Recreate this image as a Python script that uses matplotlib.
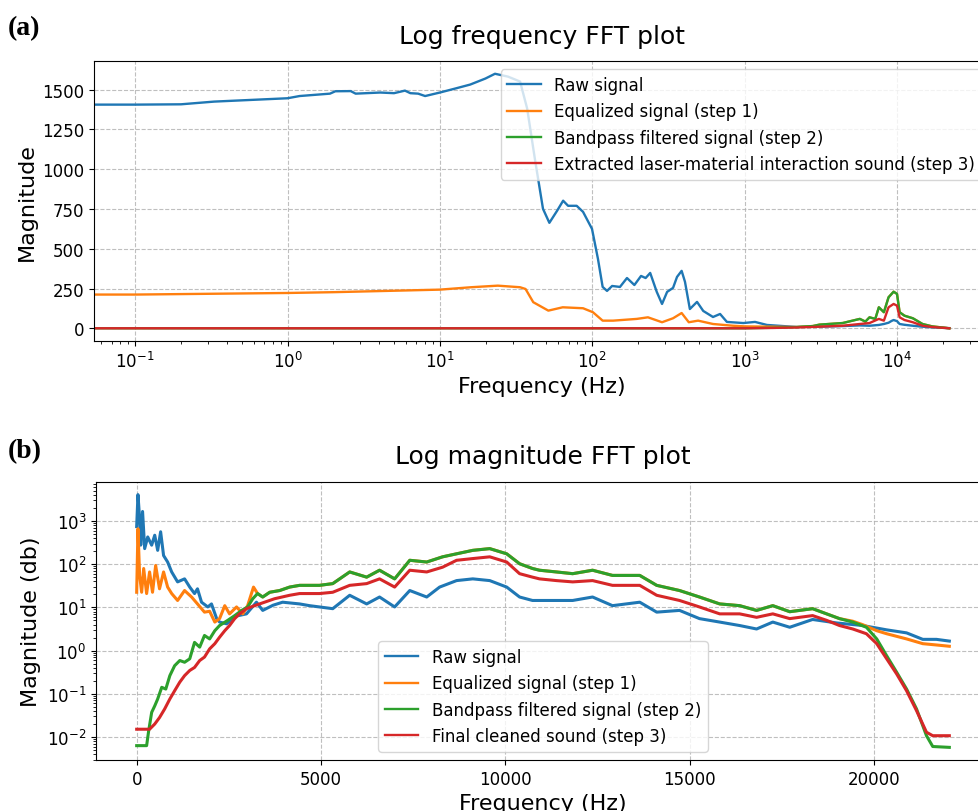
import numpy as np
import matplotlib
matplotlib.use("Agg")
import matplotlib.pyplot as plt

# ---- (a) log-frequency FFT, linear magnitude ----
raw_f_a = [0, 0.1, 0.2, 0.33, 1.0, 1.2, 1.9, 2.06, 2.6, 2.8,
           4.06, 5.0, 5.9, 6.4, 7.2, 8.0, 10, 12.6, 15.8, 19.9,
           23, 28, 33.6, 37.4, 42, 47.5, 52.3, 58.8, 64.4, 69.4,
           79, 87, 99.6, 109, 117, 125, 135, 152, 169, 189,
           209, 224, 240, 265, 287, 310, 339, 360, 386, 406,
           437, 487, 535, 620, 690, 765, 980, 1170, 1400, 2200,
           2900, 3100, 4400, 5700, 6600, 7600, 8200, 8800, 9200, 9500,
           10000, 10400, 11200, 12700, 14700, 17000, 22050]
raw_a = [1406, 1406, 1408, 1425, 1446, 1460, 1475, 1490, 1491, 1475,
         1482, 1478, 1494, 1478, 1475, 1460, 1482, 1507, 1532, 1570,
         1600, 1582, 1551, 1381, 1066, 751, 663, 739, 802, 770,
         770, 732, 625, 436, 260, 235, 266, 260, 316, 272,
         329, 316, 348, 229, 153, 229, 254, 323, 361, 292,
         121, 166, 109, 71, 90, 40, 33, 40, 21, 8,
         12, 10, 14, 18, 16, 21, 27, 35, 46, 52,
         45, 27, 22, 16, 10, 6, 1]

eq_f_a = [0, 0.1, 1.0, 2.0, 10, 16, 24, 33.6, 36.5, 41,
          51.5, 64, 87, 101, 117, 137, 196, 232, 287, 339,
          386, 430, 495, 620, 840, 1000, 1500, 2200]
eq_a = [212, 212, 222, 227, 243, 258, 268, 258, 247, 164,
        111, 132, 126, 101, 48, 48, 59, 69, 38, 63,
        96, 38, 48, 27, 16, 12, 10, 8]

bp_f_a = [0, 1000, 1500, 2200, 2800, 3100, 4400, 5700, 6200, 6600, 7200,
          7600, 8200, 8800, 9500, 10000, 10400, 11200, 12700, 14700, 17000, 22050]
bp_a = [0, 0, 3, 8, 14, 23, 33, 59, 42, 69, 59,
        132, 101, 195, 230, 216, 101, 79, 63, 27, 12, 0]

ext_f_a = [0, 1000, 1500, 2200, 3100, 4400, 5700, 6600, 7600, 8200,
           8800, 9500, 10000, 10400, 11200, 12700, 14700, 17000, 22050]
ext_a = [0, 0, 2, 5, 10, 16, 27, 33, 59, 48,
         132, 153, 142, 69, 52, 38, 16, 8, 0]

# ---- (b) linear frequency, log magnitude (values are decade exponents) ----
raw_f_b = [0, 35, 80, 110, 160, 217, 300, 407, 490, 570,
           650, 730, 840, 950, 1110, 1300, 1440, 1570, 1650, 1760,
           1930, 2030, 2170, 2250, 2440, 2710, 2980, 3250, 3420, 3700,
           3960, 4420, 4690, 4960, 5320, 5780, 6240, 6590, 7000, 7410,
           7870, 8220, 8680, 9120, 9580, 10040, 10390, 10740, 11120, 11390,
           11830, 12370, 12910, 13650, 14110, 14730, 15270, 15820, 16360, 16820,
           17260, 17720, 18340, 18990, 19700, 20350, 20890, 21330, 21700, 22050]
raw_exp_b = [2.87, 3.61, 3.06, 2.44, 3.22, 2.36, 2.63, 2.44, 2.67, 2.32,
             2.75, 2.20, 2.05, 1.82, 1.59, 1.66, 1.47, 1.32, 1.43, 1.12,
             1.01, 1.08, 0.74, 0.66, 0.62, 0.80, 0.85, 1.12, 0.93, 1.05,
             1.12, 1.08, 1.04, 1.01, 0.97, 1.28, 1.08, 1.24, 1.01, 1.39,
             1.24, 1.47, 1.62, 1.66, 1.62, 1.47, 1.24, 1.16, 1.16, 1.16,
             1.16, 1.24, 1.04, 1.12, 0.89, 0.93, 0.74, 0.66, 0.58, 0.50,
             0.66, 0.54, 0.72, 0.64, 0.58, 0.48, 0.41, 0.26, 0.26, 0.22]

eq_low_f_b = [0, 35, 80, 135, 190, 270, 350, 430, 515, 620,
              730, 840, 950, 1110, 1300, 1490, 1650, 1840, 1980, 2120,
              2250, 2390, 2520, 2710, 2880, 3010, 3170, 3280]
eq_low_exp_b = [1.35, 2.82, 1.74, 1.35, 1.90, 1.32, 1.82, 1.35, 1.97, 1.43,
                1.82, 1.47, 1.32, 1.16, 1.39, 1.24, 1.08, 0.89, 0.91, 0.66,
                0.74, 1.04, 0.85, 1.01, 0.85, 1.04, 1.47, 1.32]
eq_high_f_b = [19430, 19700, 20080, 20350, 20890, 21330, 21700, 22050]
eq_high_exp_b = [0.68, 0.60, 0.46, 0.39, 0.27, 0.16, 0.13, 0.10]

bp_f_b = [0, 270, 325, 407, 490, 570, 680, 790, 900, 1030,
          1170, 1300, 1440, 1570, 1710, 1840, 1980, 2120, 2250, 2470,
          2660, 2850, 3010, 3150, 3280, 3420, 3610, 3880, 4150, 4420,
          4690, 4960, 5320, 5780, 6240, 6590, 7000, 7410, 7870, 8300,
          8680, 9120, 9580, 10040, 10390, 10740, 10930, 11390, 11830, 12370,
          12910, 13650, 14110, 14730, 15270, 15820, 16360, 16820, 17260, 17720,
          18340, 18720, 19070, 19430, 19800, 20080, 20350, 20620, 20890, 21160,
          21430, 21600, 22050]
bp_exp_b = [-2.20, -2.20, -1.86, -1.43, -1.28, -1.12, -0.85, -0.89, -0.58, -0.35,
            -0.23, -0.27, -0.19, 0.19, 0.08, 0.35, 0.27, 0.46, 0.58, 0.70,
            0.81, 0.93, 1.01, 1.20, 1.32, 1.24, 1.35, 1.39, 1.47, 1.51,
            1.51, 1.51, 1.55, 1.82, 1.70, 1.86, 1.66, 2.09, 2.05, 2.17,
            2.24, 2.32, 2.36, 2.24, 2.01, 1.90, 1.86, 1.82, 1.78, 1.86,
            1.74, 1.74, 1.51, 1.39, 1.24, 1.08, 1.04, 0.93, 1.04, 0.90,
            0.97, 0.85, 0.74, 0.66, 0.54, 0.27, -0.12, -0.50, -0.89, -1.35,
            -1.97, -2.22, -2.24]

ext_f_b = [0, 350, 490, 620, 760, 900, 1030, 1170, 1300, 1440,
           1570, 1710, 1840, 1980, 2120, 2250, 2390, 2520, 2660, 2790,
           2980, 3200, 3470, 3740, 4150, 4420, 4690, 4960, 5320, 5780,
           6240, 6590, 7000, 7410, 7870, 8300, 8680, 9120, 9580, 10040,
           10390, 10740, 10930, 11390, 11830, 12370, 12910, 13650, 14110, 14730,
           15270, 15820, 16360, 16820, 17260, 17720, 18340, 18720, 19070, 19430,
           19800, 20080, 20350, 20620, 20890, 21160, 21430, 21600, 22050]
ext_exp_b = [-1.82, -1.82, -1.70, -1.55, -1.35, -1.12, -0.93, -0.73, -0.58, -0.46,
             -0.39, -0.23, -0.15, 0.04, 0.16, 0.31, 0.46, 0.58, 0.74, 0.85,
             0.97, 1.04, 1.12, 1.20, 1.28, 1.32, 1.32, 1.32, 1.35, 1.51,
             1.55, 1.66, 1.47, 1.86, 1.82, 1.93, 2.09, 2.13, 2.17, 2.05,
             1.78, 1.70, 1.66, 1.62, 1.59, 1.62, 1.51, 1.51, 1.28, 1.16,
             1.01, 0.85, 0.85, 0.77, 0.85, 0.74, 0.81, 0.70, 0.58, 0.50,
             0.39, 0.16, -0.19, -0.54, -0.93, -1.39, -1.89, -1.97, -1.97]

labels_a = ["Raw signal", "Equalized signal (step 1)",
            "Bandpass filtered signal (step 2)",
            "Extracted laser-material interaction sound (step 3)"]
labels_b = ["Raw signal", "Equalized signal (step 1)",
            "Bandpass filtered signal (step 2)",
            "Final cleaned sound (step 3)"]

# the equalized spectrum coincides with the bandpassed one inside the pass band
bp_f_a_arr, bp_a_arr = np.array(bp_f_a), np.array(bp_a)
keep = bp_f_a_arr >= 2800
eq_f_a_full = np.concatenate([eq_f_a, bp_f_a_arr[keep]])
eq_a_full = np.concatenate([eq_a, bp_a_arr[keep]])

bp_f_b_arr, bp_exp_b_arr = np.array(bp_f_b), np.array(bp_exp_b)
keep = (bp_f_b_arr >= 3420) & (bp_f_b_arr <= 19070)
eq_f_b = np.concatenate([eq_low_f_b, bp_f_b_arr[keep], eq_high_f_b])
eq_exp_b = np.concatenate([eq_low_exp_b, bp_exp_b_arr[keep], eq_high_exp_b])

fig = plt.figure(figsize=(9.79, 8.12), dpi=100)
ax1 = fig.add_axes([0.096, 0.5788, 0.9152, 0.3448])
ax2 = fig.add_axes([0.0981, 0.0628, 0.9131, 0.3424])

lw_a, lw_b = 1.7, 2.2
ax1.plot(raw_f_a, raw_a, lw=lw_a, label=labels_a[0])
ax1.plot(eq_f_a_full, eq_a_full, lw=lw_a, label=labels_a[1])
ax1.plot(bp_f_a, bp_a, lw=lw_a, label=labels_a[2])
ax1.plot(ext_f_a, ext_a, lw=lw_a, label=labels_a[3])
ax1.set_xscale("log")
ax1.set_xlim(10 ** -1.27, 10 ** 4.61)
ax1.set_title("Log frequency FFT plot", fontsize=18, pad=13)
ax1.set_xlabel("Frequency (Hz)", fontsize=16)
ax1.set_ylabel("Magnitude", fontsize=16)
ax1.legend(loc="upper right", fontsize=12)

ax2.plot(raw_f_b, np.power(10.0, raw_exp_b), lw=lw_b, label=labels_b[0])
ax2.plot(eq_f_b, np.power(10.0, eq_exp_b), lw=lw_b, label=labels_b[1])
ax2.plot(bp_f_b, np.power(10.0, bp_exp_b), lw=lw_b, label=labels_b[2])
ax2.plot(ext_f_b, np.power(10.0, ext_exp_b), lw=lw_b, label=labels_b[3])
ax2.set_yscale("log")
ax2.set_title("Log magnitude FFT plot", fontsize=18, pad=14)
ax2.set_xlabel("Frequency (Hz)", fontsize=16)
ax2.set_ylabel("Magnitude (db)", fontsize=16)
leg = ax2.legend(loc="lower center", fontsize=12)
for line in leg.get_lines():
    line.set_linewidth(1.7)

for ax in (ax1, ax2):
    ax.grid(True, which="major", linestyle="--", color="#b0b0b0", alpha=0.8)
    ax.tick_params(labelsize=12)

fig.text(0.008, 0.98, "(a)", fontsize=20, fontweight="bold",
         family="Liberation Serif", va="top")
fig.text(0.008, 0.459, "(b)", fontsize=20, fontweight="bold",
         family="Liberation Serif", va="top")

fig.savefig("out.png", dpi=100)
